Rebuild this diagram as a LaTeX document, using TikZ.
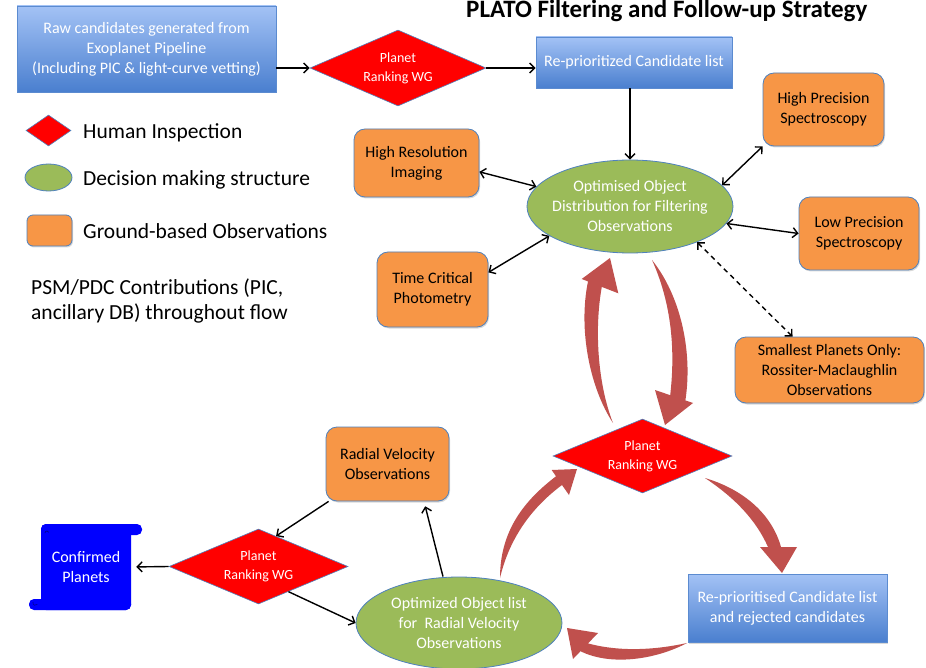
\documentclass[tikz,border=0pt]{standalone}
\usepackage{fontspec}
\setmainfont{Carlito}
\usetikzlibrary{shapes.geometric,arrows.meta,shadows,calc}
\definecolor{obord}{HTML}{4F81BD}
\definecolor{ofill}{HTML}{F79646}
\definecolor{gfill}{HTML}{9BBB59}
\definecolor{btop}{HTML}{A3C2F5}
\definecolor{bbot}{HTML}{4A7FCF}
\definecolor{bbord}{HTML}{5B8BD0}
\definecolor{bigred}{HTML}{C0504D}
\definecolor{cpblue}{HTML}{0000FF}
\begin{document}
\begin{tikzpicture}[x=1pt,y=-1pt,
  txt/.style={font=\fontsize{16}{20}\selectfont, align=center},
  shad/.style={drop shadow={shadow xshift=1pt, shadow yshift=-1.5pt, opacity=0.3}},
  bluebox/.style={txt, text=white, draw=bbord, line width=0.8pt, top color=btop, bottom color=bbot, inner sep=0pt, shad},
  obox/.style={txt, fill=ofill, draw=obord, line width=0.8pt, rounded corners=11pt, inner sep=0pt, shad},
  gell/.style={ellipse, fill=gfill, draw=obord, line width=0.8pt, inner sep=0pt},
  etext/.style={txt, text=white, inner sep=0pt},
  rdia/.style={diamond, fill=red, draw=obord, line width=0.6pt, inner sep=0pt},
  dtext/.style={font=\fontsize{14}{19}\selectfont, align=center, text=white, inner sep=0pt},
  conn/.style={line width=1.4pt, -{Straight Barb[length=5pt,width=10pt]}},
  biconn/.style={line width=1.4pt, {Straight Barb[length=5pt,width=10pt]}-{Straight Barb[length=5pt,width=10pt]}},
  legtxt/.style={font=\fontsize{21.5}{25}\selectfont, anchor=west, inner sep=0pt}
]
\useasboundingbox[fill=white] (0,0) rectangle (926,668);

% title
\node[anchor=base west, inner sep=0pt, font=\bfseries\fontsize{25}{30}\selectfont] (T) at (466,17.5) {PLATO Filtering and Follow-up Strategy};

% top row
\node[bluebox, minimum width=259, minimum height=86] (Raw) at (146.5,49) {Raw candidates generated from\\Exoplanet Pipeline\\(Including PIC \& light-curve vetting)};
\node[rdia, minimum width=176, minimum height=76, label={[dtext]center:Planet\\Ranking WG}] (D1) at (398,68) {};
\node[bluebox, minimum width=196, minimum height=51] (Re) at (634,62.5) {Re-prioritized Candidate list};

% legend
\node[rdia, minimum width=45, minimum height=31] (LD) at (48.5,130.5) {};
\node[gell, minimum width=47, minimum height=27] (LE) at (48.5,177.5) {};
\node[obox, rounded corners=6pt, minimum width=45, minimum height=31] (LO) at (49.5,230.5) {};
\node[legtxt] (LT1) at (83,133) {Human Inspection};
\node[legtxt] (LT2) at (83,180) {Decision making structure};
\node[legtxt] (LT3) at (83,231) {Ground-based Observations};
\node[legtxt, align=left] (PSM) at (31,300.5) {PSM/PDC Contributions (PIC,\\ancillary DB) throughout flow};

% filtering ellipse and observations
\node[gell, minimum width=206, minimum height=93, label={[etext]center:Optimised Object\\Distribution for Filtering\\Observations}] (E1) at (630,206.5) {};
\node[obox, minimum width=125, minimum height=68] (HRI) at (416.5,163) {High Resolution\\Imaging};
\node[obox, minimum width=121, minimum height=73] (HPS) at (823.5,109.5) {High Precision\\Spectroscopy};
\node[obox, minimum width=120, minimum height=73] (LPS) at (859,233.5) {Low Precision\\Spectroscopy};
\node[obox, minimum width=111, minimum height=75] (TCP) at (432.5,289.5) {Time Critical\\Photometry};
\node[obox, minimum width=189, minimum height=66] (SM) at (829.5,370) {Smallest Planets Only:\\Rossiter-Maclaughlin\\Observations};

% middle and bottom
\node[rdia, minimum width=179, minimum height=74, label={[dtext]center:Planet\\Ranking WG}] (D2) at (642.5,456) {};
\node[obox, minimum width=123, minimum height=74] (RV) at (387.5,464) {Radial Velocity\\Observations};
\node[rdia, minimum width=179, minimum height=75, label={[dtext]center:Planet\\Ranking WG}] (D3) at (258.5,566.5) {};
\node[gell, minimum width=206, minimum height=92, label={[etext]center:Optimized Object list\\for\ \ Radial Velocity\\Observations}] (E2) at (459,623) {};
\node[bluebox, minimum width=199, minimum height=68] (RC) at (787.5,608) {Re-prioritised Candidate list\\and rejected candidates};

% confirmed planets scroll
\fill[cpblue, rounded corners=5pt] (41,524) rectangle (142,535);
\fill[cpblue, rounded corners=5pt] (29,599) rectangle (131,610);
\node[fill=cpblue, rounded corners=5pt, minimum width=90, minimum height=86, txt, text=white, inner sep=0pt] (CP) at (86,567) {Confirmed\\Planets};
\draw[cpblue!55!black, line width=0.6pt] (45,533) arc[start angle=180, end angle=20, radius=2pt];
\draw[cpblue!55!black, line width=0.6pt] (33,602) arc[start angle=160, end angle=320, radius=2.5pt];

% black connectors
\draw[conn] (Raw.east |- D1.west) -- (D1.west);
\draw[conn] (D1.east) -- (D1.east -| Re.west);
\draw[conn] (Re.south -| E1.north) -- (E1.north);
\draw[biconn] (HRI.-8) -- (E1.168);
\draw[biconn] (HPS.south west) -- (E1.13);
\draw[biconn] (E1.-10) -- (LPS.west);
\draw[biconn] (TCP.17) -- (E1.200);
\draw[biconn, dash pattern=on 5pt off 4pt] (E1.-28) -- ([xshift=-37pt]SM.north);
\draw[conn, shorten >=5pt] ([xshift=-16pt]E2.north) -- ([xshift=36.5pt]RV.south);
\draw[conn] ([xshift=3pt]RV.south west) -- (D3.60);
\draw[conn] (D3.-40) -- (E2.west);
\draw[conn, shorten >=5pt] (D3.west) -- (CP.east);

% big curved arrows
\fill[bigred] (613,423) .. controls (590,388) and (578,330) .. (588,281.4) -- (581.7,279) -- (610,258) -- (618.3,293.3) -- (601.8,286.9) .. controls (594,330) and (598,385) .. (613,423) -- cycle;
\fill[bigred] (652,260) .. controls (680,295) and (693,350) .. (685.4,400.4) -- (693,403) -- (665,425) -- (655,390) -- (670.2,395.2) .. controls (676,345) and (670,300) .. (652,260) -- cycle;
\fill[bigred] (500,578) .. controls (500,530) and (525,500) .. (556,476.3) -- (551.7,470) -- (577,469) -- (569,495) -- (562,485) .. controls (535,505) and (510,535) .. (500,578) -- cycle;
\fill[bigred] (705,478) .. controls (745,490) and (772,515) .. (781,547) -- (797,547) -- (782,573) -- (760,547) -- (768,547) .. controls (756,520) and (735,498) .. (705,478) -- cycle;
\fill[bigred] (687,643) .. controls (655,660) and (610,666) .. (580.5,651.2) -- (573,659) -- (567,628) -- (598,633) -- (588,643.4) .. controls (620,652) and (655,650) .. (687,643) -- cycle;
\end{tikzpicture}
\end{document}
